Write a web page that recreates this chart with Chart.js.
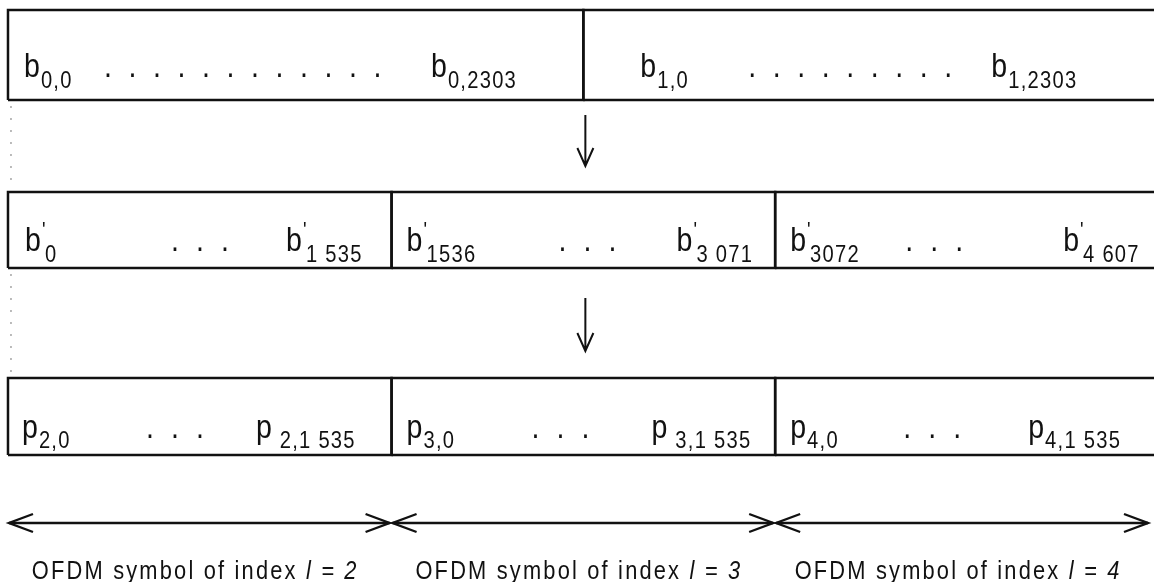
<!DOCTYPE html>
<html>
<head>
<meta charset="utf-8">
<script src="https://cdn.jsdelivr.net/npm/chart.js@4.4.1/dist/chart.umd.min.js"></script>
<style>
  html, body { margin: 0; padding: 0; background: #fff; }
  #wrap { width: 1154px; height: 582px; }
</style>
</head>
<body>
<div id="wrap"><canvas id="c"></canvas></div>
<script>
// bit index ranges of each block (x axis is bit index)
const codedBlocks = [[0, 2304], [2304, 4608]]
const interleavedBlocks = [[0, 1536], [1536, 3072], [3072, 4608]]
const symbolIndex = [2, 3, 4]
const symbolLength = 1536

// [main, subscript] for the first and last element in each block
const codedLabels = [
  [['b', '0,0'], ['b', '0,2303']],
  [['b', '1,0'], ['b', '1,2303']]
]
const interleavedLabels = [
  [["b'", '0'], ["b'", '1 535']],
  [["b'", '1536'], ["b'", '3 071']],
  [["b'", '3072'], ["b'", '4 607']]
]
const carrierLabels = [
  [['p', '2,0'], ['p', ' 2,1 535']],
  [['p', '3,0'], ['p', ' 3,1 535']],
  [['p', '4,0'], ['p', '4,1 535']]
]
const dotCounts = [[12, 9], [3, 3, 3], [3, 3, 3]]

// layout (y in pixels, offsets in pixels from block start)
const rows = [
  { top: 10, bottom: 100, base: 77, sub: 88, first: [16, 57], dots: [96, 165], gap: 24.5, last: [423, 408] },
  { top: 192, bottom: 268, base: 251, sub: 262, first: [17, 15, 15], dots: [163, 167, 130], gap: 25, last: [278, 285, 288] },
  { top: 378, bottom: 455, base: 438, sub: 448, first: [14, 15, 15], dots: [138, 140, 128], gap: 25, last: [248, 260, 253] }
]

const FONT = '"Liberation Sans", Arial, sans-serif'
const NARROW = 0.84

function boxSet (ranges, row) {
  return ranges.map(([a, b]) => ({
    data: [
      { x: a, y: row.bottom }, { x: a, y: row.top }, { x: b, y: row.top },
      { x: b, y: row.bottom }, { x: a, y: row.bottom }
    ],
    borderColor: '#111',
    borderWidth: 2.5,
    pointRadius: 0,
    showLine: true,
    fill: false,
    tension: 0
  }))
}

const datasets = [
  ...boxSet(codedBlocks, rows[0]),
  ...boxSet(interleavedBlocks, rows[1]),
  ...boxSet(interleavedBlocks, rows[2])
]

// draw horizontally condensed text, returns drawn width
function narrow (ctx, text, x, y, font, spacing) {
  ctx.font = font
  ctx.letterSpacing = (spacing || 0) + 'px'
  const w = ctx.measureText(text).width * NARROW
  ctx.save()
  ctx.translate(x, y)
  ctx.scale(NARROW, 1)
  ctx.fillText(text, 0, 0)
  ctx.restore()
  ctx.letterSpacing = '0px'
  return w
}

function label (ctx, x, base, sub, [main, subText]) {
  ctx.textAlign = 'left'
  ctx.textBaseline = 'alphabetic'
  const mainText = main.replace("'", '')
  let w = narrow(ctx, mainText, x, base, '34px ' + FONT)
  if (main.includes("'")) {
    narrow(ctx, "'", x + w + 1, base - 14, '22px ' + FONT)
    w += 3
  }
  narrow(ctx, subText, x + w + 1, sub, '24px ' + FONT, 1.5)
}

function vArrow (ctx, x, y0, y1) {
  ctx.beginPath()
  ctx.moveTo(x, y0); ctx.lineTo(x, y1)
  ctx.moveTo(x - 8, y1 - 18); ctx.lineTo(x, y1); ctx.lineTo(x + 8, y1 - 18)
  ctx.stroke()
}

function hHead (ctx, x, y, dir) {
  ctx.beginPath()
  ctx.moveTo(x - dir * 24, y - 9); ctx.lineTo(x, y); ctx.lineTo(x - dir * 24, y + 9)
  ctx.stroke()
}

const overlay = {
  id: 'overlay',
  afterDatasetsDraw (chart) {
    const { ctx, scales: { x } } = chart
    ctx.save()
    ctx.fillStyle = '#111'
    ctx.strokeStyle = '#111'

    const groups = [
      [codedBlocks, codedLabels],
      [interleavedBlocks, interleavedLabels],
      [interleavedBlocks, carrierLabels]
    ]
    groups.forEach(([blocks, labels], r) => {
      const row = rows[r]
      blocks.forEach(([a], i) => {
        const px = x.getPixelForValue(a)
        label(ctx, px + row.first[i], row.base, row.sub, labels[i][0])
        label(ctx, px + row.last[i], row.base, row.sub, labels[i][1])
        for (let d = 0; d < dotCounts[r][i]; d++) {
          narrow(ctx, '.', px + row.dots[i] + d * row.gap, row.base, '34px ' + FONT)
        }
      })
    })

    // dotted guide on the left, between the rows
    ctx.lineWidth = 1
    ctx.strokeStyle = '#777'
    ctx.setLineDash([2, 10])
    const gx = x.getPixelForValue(0) + 3
    ctx.beginPath()
    ctx.moveTo(gx, rows[0].bottom + 6); ctx.lineTo(gx, rows[1].top - 4)
    ctx.moveTo(gx, rows[1].bottom + 6); ctx.lineTo(gx, rows[2].top - 4)
    ctx.stroke()
    ctx.setLineDash([])

    // arrows between the rows
    ctx.strokeStyle = '#111'
    ctx.lineWidth = 2
    const ax = x.getPixelForValue(codedBlocks[1][0]) + 2
    vArrow(ctx, ax, 115, 166)
    vArrow(ctx, ax, 298, 351)

    // OFDM symbol spans
    const ay = 523
    ctx.lineWidth = 2.4
    symbolIndex.forEach((l, i) => {
      const x0 = x.getPixelForValue(i * symbolLength) + 1
      const x1 = Math.min(x.getPixelForValue((i + 1) * symbolLength), chart.chartArea.right - 4) - 2
      ctx.beginPath()
      ctx.moveTo(x0, ay); ctx.lineTo(x1, ay)
      ctx.stroke()
      hHead(ctx, x0, ay, -1)
      hHead(ctx, x1, ay, 1)

      const t1 = 'OFDM symbol of index '
      const t2 = 'l = ' + l
      const f = '26px ' + FONT
      ctx.font = f
      ctx.letterSpacing = '2.6px'
      const w1 = ctx.measureText(t1).width * NARROW
      ctx.font = 'italic ' + f
      const w2 = ctx.measureText(t2).width * NARROW
      ctx.letterSpacing = '0px'
      const sx = (x0 + x1) / 2 - 4 - (w1 + w2) / 2
      ctx.textAlign = 'left'
      narrow(ctx, t1, sx, 579, f, 2.6)
      narrow(ctx, t2, sx + w1, 579, 'italic ' + f, 2.6)
    })
    ctx.restore()
  }
}

new Chart(document.getElementById('c'), {
  type: 'scatter',
  data: { datasets },
  options: {
    responsive: true,
    maintainAspectRatio: false,
    animation: false,
    layout: { padding: 0 },
    plugins: { legend: { display: false }, tooltip: { enabled: false } },
    scales: {
      x: { type: 'linear', min: -32, max: 4589, display: false },
      y: { type: 'linear', min: 0, max: 582, reverse: true, display: false }
    }
  },
  plugins: [overlay]
})
</script>
</body>
</html>
